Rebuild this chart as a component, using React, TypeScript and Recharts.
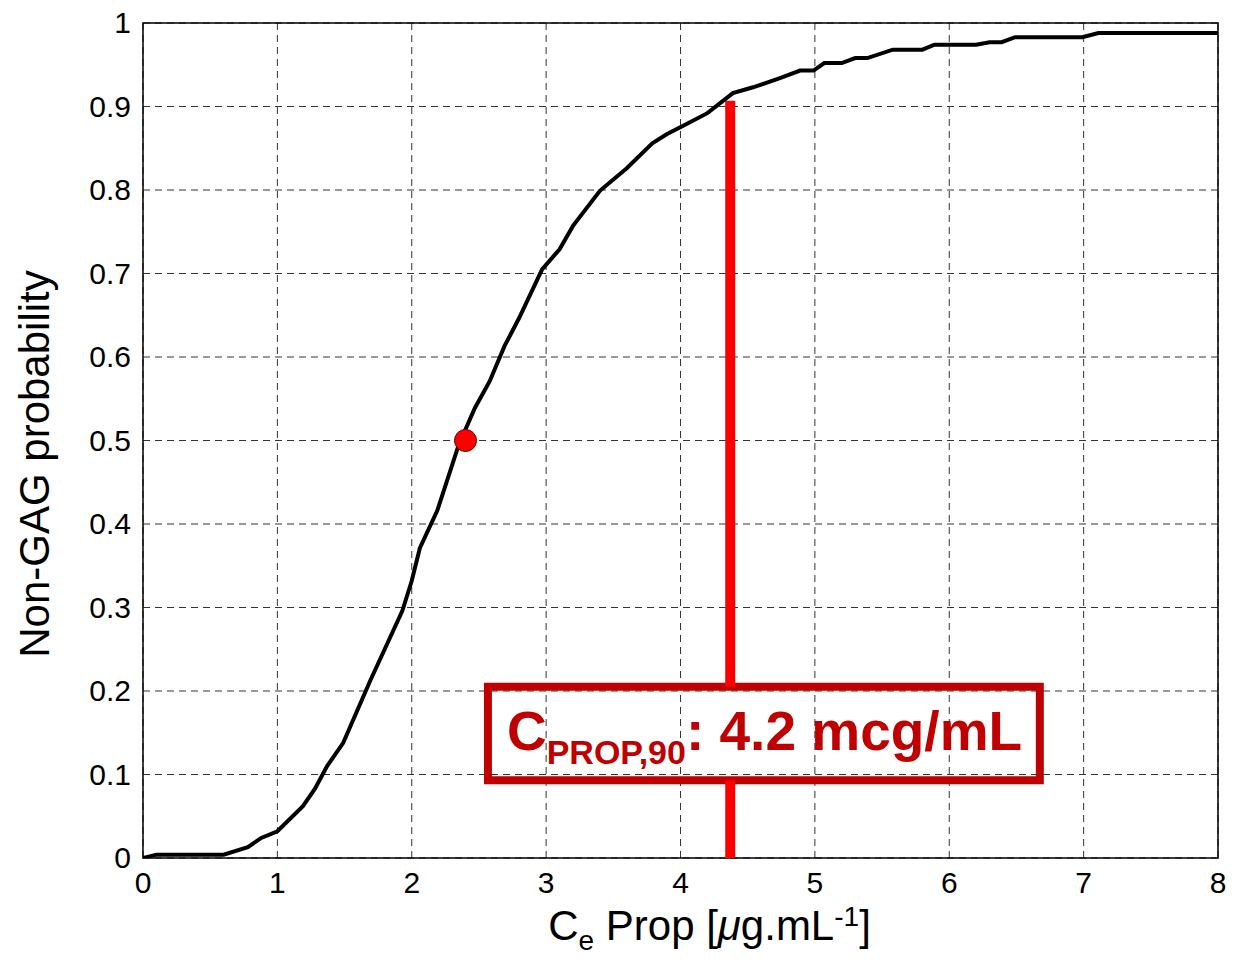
import {
    LineChart,
    Line,
    XAxis,
    YAxis,
    CartesianGrid,
    ReferenceArea,
    ReferenceLine,
    ReferenceDot,
    Label,
} from "recharts";

// Cumulative non-GAG probability vs effect-site propofol concentration
const ceValues = [
    0, 0.1, 0.6, 0.78, 0.88, 1.0, 1.19, 1.28, 1.37, 1.49, 1.69, 1.93, 2.0, 2.06,
    2.19, 2.35, 2.47, 2.58, 2.69, 2.8, 2.97, 3.1, 3.2, 3.4, 3.6, 3.79, 3.9, 4.02,
    4.2, 4.39, 4.54, 4.67, 4.74, 4.89, 4.99, 5.07, 5.2, 5.3, 5.39, 5.58, 5.8,
    5.89, 6.2, 6.3, 6.39, 6.49, 6.99, 7.11, 8,
];
const probValues = [
    0, 0.004, 0.004, 0.013, 0.024, 0.032, 0.062, 0.083, 0.11, 0.138, 0.212,
    0.296, 0.332, 0.371, 0.416, 0.495, 0.539, 0.571, 0.613, 0.647, 0.705, 0.729,
    0.757, 0.799, 0.826, 0.856, 0.867, 0.877, 0.892, 0.916, 0.923, 0.93, 0.934,
    0.943, 0.943, 0.952, 0.952, 0.958, 0.958, 0.968, 0.968, 0.974, 0.974, 0.977,
    0.977, 0.983, 0.983, 0.988, 0.988,
];

const xTicks = [0, 1, 2, 3, 4, 5, 6, 7, 8];
const yTicks = [0, 0.1, 0.2, 0.3, 0.4, 0.5, 0.6, 0.7, 0.8, 0.9, 1];

// EC50 marker and C90 line
const ec50 = { x: 2.4, p: 0.5 };
const c90 = { x: 4.37, top: 0.907 };

// annotation box extents (data units)
const boxX = [2.567, 6.674];
const boxY = [0.093, 0.205];

const curveData = ceValues.map((x, i) => ({ x, p: probValues[i] }));

const FONT = "'Liberation Sans', Arial, Helvetica, sans-serif";
const BOX_RED = "#C00000";

const YTick = ({ x, y, payload }: any) => (
    <text x={x} y={y} dy={10} textAnchor="end" fontSize={30} fill="#000" fontFamily={FONT}>
        {String(payload.value)}
    </text>
);

const XTick = ({ x, y, payload }: any) => (
    <text x={x} y={y} dy={35} textAnchor="middle" fontSize={30} fill="#000" fontFamily={FONT}>
        {String(payload.value)}
    </text>
);

const YTitle = ({ viewBox }: any) => {
    const cx = viewBox.x - 34;
    const cy = 464;
    return (
        <text
            x={cx}
            y={cy}
            transform={`rotate(-90, ${cx}, ${cy})`}
            textAnchor="middle"
            fontSize={42}
            fill="#000"
            fontFamily={FONT}
        >
            Non-GAG probability
        </text>
    );
};

const XTitle = ({ viewBox }: any) => {
    const cx = viewBox.x + viewBox.width / 2 + 29;
    const cy = viewBox.y + 82;
    return (
        <text x={cx} y={cy} textAnchor="middle" fontSize={42} fill="#000" fontFamily={FONT}>
            <tspan>C</tspan>
            <tspan fontSize={28} dy={10}>e</tspan>
            <tspan dy={-10}> Prop [</tspan>
            <tspan fontStyle="italic">μ</tspan>
            <tspan>g.mL</tspan>
            <tspan fontSize={28} dy={-14}>-1</tspan>
            <tspan dy={14}>]</tspan>
        </text>
    );
};

const BoxText = ({ viewBox }: any) => (
    <text
        x={viewBox.x + 19}
        y={viewBox.y + 63}
        fill={BOX_RED}
        fontWeight="bold"
        fontFamily={FONT}
        fontSize={55}
    >
        <tspan>C</tspan>
        <tspan fontSize={34} dy={14}>PROP,90</tspan>
        <tspan dy={-14}>: 4.2 mcg/mL</tspan>
    </text>
);

export default function App() {
    return (
        <div style={{ position: "fixed", left: 0, top: 0, background: "#fff", fontFamily: FONT }}>
            <LineChart
                width={1234}
                height={962}
                data={curveData}
                margin={{ top: 23, right: 16, left: 83, bottom: 54 }}
            >
                <CartesianGrid
                    stroke="#333"
                    strokeDasharray="7 5"
                    horizontalValues={yTicks}
                    verticalValues={xTicks}
                />
                <XAxis
                    dataKey="x"
                    type="number"
                    domain={[0, 8]}
                    ticks={xTicks}
                    height={50}
                    tickSize={0}
                    tickMargin={0}
                    tick={<XTick />}
                    axisLine={false}
                    allowDataOverflow
                >
                    <Label content={<XTitle />} />
                </XAxis>
                <YAxis
                    type="number"
                    domain={[0, 1]}
                    ticks={yTicks}
                    width={60}
                    tickSize={0}
                    tickMargin={12}
                    tick={<YTick />}
                    axisLine={false}
                    allowDataOverflow
                >
                    <Label content={<YTitle />} />
                </YAxis>
                {/* C90 marker, interrupted by the annotation box */}
                <ReferenceLine
                    segment={[
                        { x: c90.x, y: 0 },
                        { x: c90.x, y: boxY[0] },
                    ]}
                    stroke="#FF0000"
                    strokeWidth={10}
                />
                <ReferenceLine
                    segment={[
                        { x: c90.x, y: boxY[1] },
                        { x: c90.x, y: c90.top },
                    ]}
                    stroke="#FF0000"
                    strokeWidth={10}
                />
                <ReferenceArea
                    x1={boxX[0]}
                    x2={boxX[1]}
                    y1={boxY[0]}
                    y2={boxY[1]}
                    fill="none"
                    stroke={BOX_RED}
                    strokeWidth={8}
                    label={<BoxText />}
                />
                <ReferenceArea
                    x1={0}
                    x2={8}
                    y1={0}
                    y2={1}
                    fill="none"
                    stroke="#000"
                    strokeWidth={1.5}
                />
                <Line
                    dataKey="p"
                    type="linear"
                    stroke="#000"
                    strokeWidth={4}
                    dot={false}
                    isAnimationActive={false}
                />
                <ReferenceDot
                    x={ec50.x}
                    y={ec50.p}
                    r={11}
                    fill="#FF0000"
                    stroke="#600"
                    strokeWidth={1}
                />
            </LineChart>
        </div>
    );
}
